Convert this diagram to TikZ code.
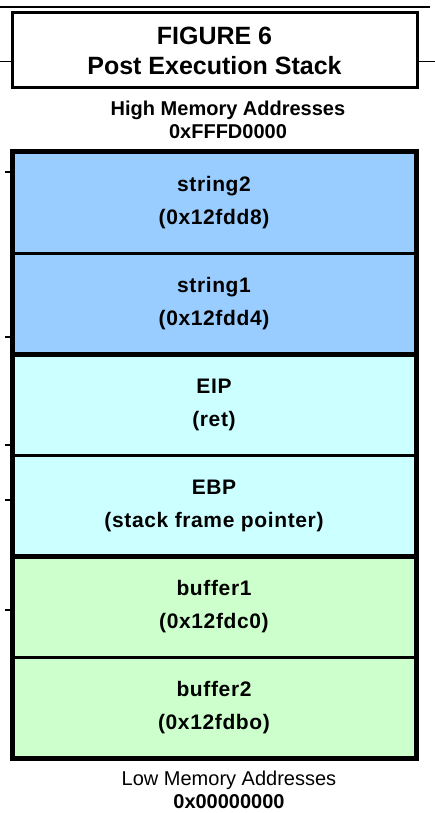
\documentclass[tikz,border=0pt]{standalone}
\usepackage{fontspec}
\setmainfont{Liberation Sans}
\newfontfamily\stackfont[LetterSpace=3]{Liberation Sans}
\usetikzlibrary{positioning}

\definecolor{argblue}{HTML}{99CCFF}
\definecolor{retcyan}{HTML}{CCFFFF}
\definecolor{bufgreen}{HTML}{CCFFCC}

\begin{document}
\begin{tikzpicture}[x=1pt, y=-1pt,
    slot/.style={draw, line width=3pt, outer sep=0pt, inner sep=0pt,
      minimum width=404pt, minimum height=101pt, align=center,
      font=\stackfont\bfseries\fontsize{21}{33}\selectfont},
    addr/.style={align=center, inner sep=0pt, font=\fontsize{20}{23}\selectfont},
    tick/.style={line width=1.5pt}]
    \useasboundingbox[fill=white] (0,0) rectangle (435,813);
    % Title box with its rule
    \draw[line width=2pt] (0,7) -- (430,7);
    \node[draw, line width=3pt, minimum width=405pt, minimum height=75pt, align=center,
      font=\bfseries\fontsize{25}{30}\selectfont] (title) at (214.5,50.5)
      {FIGURE 6\\Post Execution Stack};
    \draw[tick] ([yshift=-11pt]title.west) -- ++(-12,0);
    \draw[tick] ([yshift=-11pt]title.east) -- ++(18,0);
    \node[addr, font=\bfseries\fontsize{20}{23}\selectfont] (high) at (228,120)
      {High Memory Addresses\\0xFFFD0000};
    % The stack, top to bottom
    \node[slot, fill=argblue] (str2) at (214,202.5) {string2\\(0x12fdd8)};
    \node[slot, fill=argblue, below=0pt of str2] (str1) {string1\\(0x12fdd4)};
    \node[slot, fill=retcyan, below=0pt of str1] (eip) {EIP\\(ret)};
    \node[slot, fill=retcyan, below=0pt of eip] (ebp) {EBP\\(stack frame pointer)};
    \node[slot, fill=bufgreen, below=0pt of ebp] (buf1) {buffer1\\(0x12fdc0)};
    \node[slot, fill=bufgreen, below=0pt of buf1] (buf2) {buffer2\\(0x12fdbo)};
    % Heavy outline and group separators
    \draw[line width=5pt] (str2.north west) rectangle (buf2.south east);
    \draw[line width=5pt] (str1.south west) -- (str1.south east);
    \draw[line width=5pt] (ebp.south west) -- (ebp.south east);
    \foreach \y in {172,337,445,500,610}
        \draw[tick] (5,\y) -- (12,\y);
    \node[addr] (low) at (229,790)
      {Low Memory Addresses\\\textbf{0x00000000}};
\end{tikzpicture}
\end{document}
